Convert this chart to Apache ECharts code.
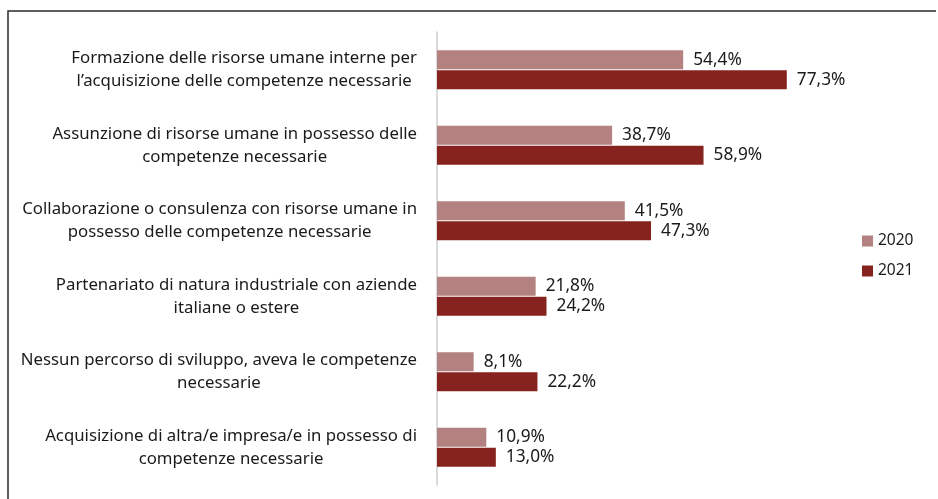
<!DOCTYPE html>
<html>
<head>
<meta charset="utf-8">
<script src="https://cdn.jsdelivr.net/npm/echarts@6/dist/echarts.min.js"></script>
<style>
  html, body { margin: 0; padding: 0; background: #fff; }
  #chart { width: 938px; height: 499px; }
</style>
</head>
<body>
<div id="chart"></div>
<script>
// categories (two lines each, as in the picture)
var categories = [
  'Formazione delle risorse umane interne per\nl\u2019acquisizione delle competenze necessarie',
  'Assunzione di risorse umane in possesso delle\ncompetenze necessarie',
  'Collaborazione o consulenza con risorse umane in\npossesso delle competenze necessarie',
  'Partenariato di natura industriale con aziende\nitaliane o estere',
  'Nessun percorso di sviluppo, aveva le competenze\nnecessarie',
  'Acquisizione di altra/e impresa/e in possesso di\ncompetenze necessarie'
];
var values2020 = [54.4, 38.7, 41.5, 21.8, 8.1, 10.9];
var values2021 = [77.3, 58.9, 47.3, 24.2, 22.2, 13.0];
var seriesNames = ['2020', '2021'];

var chart = echarts.init(document.getElementById('chart'));

function pct(p) {
  return p.value.toFixed(1).replace('.', ',') + '%';
}

var labelStyle = {
  show: true,
  position: 'right',
  distance: 10,
  formatter: pct,
  fontFamily: 'Noto Sans',
  fontSize: 17.3,
  color: '#1a1a1a'
};

chart.setOption({
  animation: false,
  textStyle: { fontFamily: 'Noto Sans' },
  graphic: [{
    type: 'polyline',
    shape: { points: [[8, 499], [8, 11], [936, 11]] },
    style: { stroke: '#2a2a2a', lineWidth: 1.5, fill: null }
  }],
  legend: {
    orient: 'vertical',
    left: 857,
    top: 228,
    icon: 'rect',
    itemWidth: 11,
    itemHeight: 11,
    itemGap: 14,
    textStyle: { fontSize: 15.5, color: '#1a1a1a', fontFamily: 'Noto Sans' },
    data: seriesNames
  },
  grid: { left: 437, top: 32, right: 139, bottom: 14 },
  xAxis: {
    type: 'value',
    min: 0,
    max: 80,
    show: false
  },
  yAxis: {
    type: 'category',
    inverse: true,
    data: categories,
    axisLine: { lineStyle: { color: '#cfcfcf', width: 1.5 } },
    axisTick: { show: false },
    axisLabel: {
      margin: 20,
      align: 'right',
      formatter: function (v) {
        return v.split('\n').map(function (s) { return '{c|' + s + '}'; }).join('\n');
      },
      rich: {
        c: {
          align: 'center',
          fontFamily: 'Noto Sans',
          fontSize: 16.8,
          lineHeight: 23,
          color: '#1a1a1a'
        }
      }
    }
  },
  series: [
    {
      name: seriesNames[0],
      type: 'bar',
      data: values2020,
      barWidth: 19,
      barGap: '5%',
      itemStyle: { color: '#b38280' },
      label: labelStyle
    },
    {
      name: seriesNames[1],
      type: 'bar',
      data: values2021,
      barWidth: 19,
      barGap: '5%',
      itemStyle: { color: '#86231f' },
      label: labelStyle
    }
  ]
});
</script>
</body>
</html>
